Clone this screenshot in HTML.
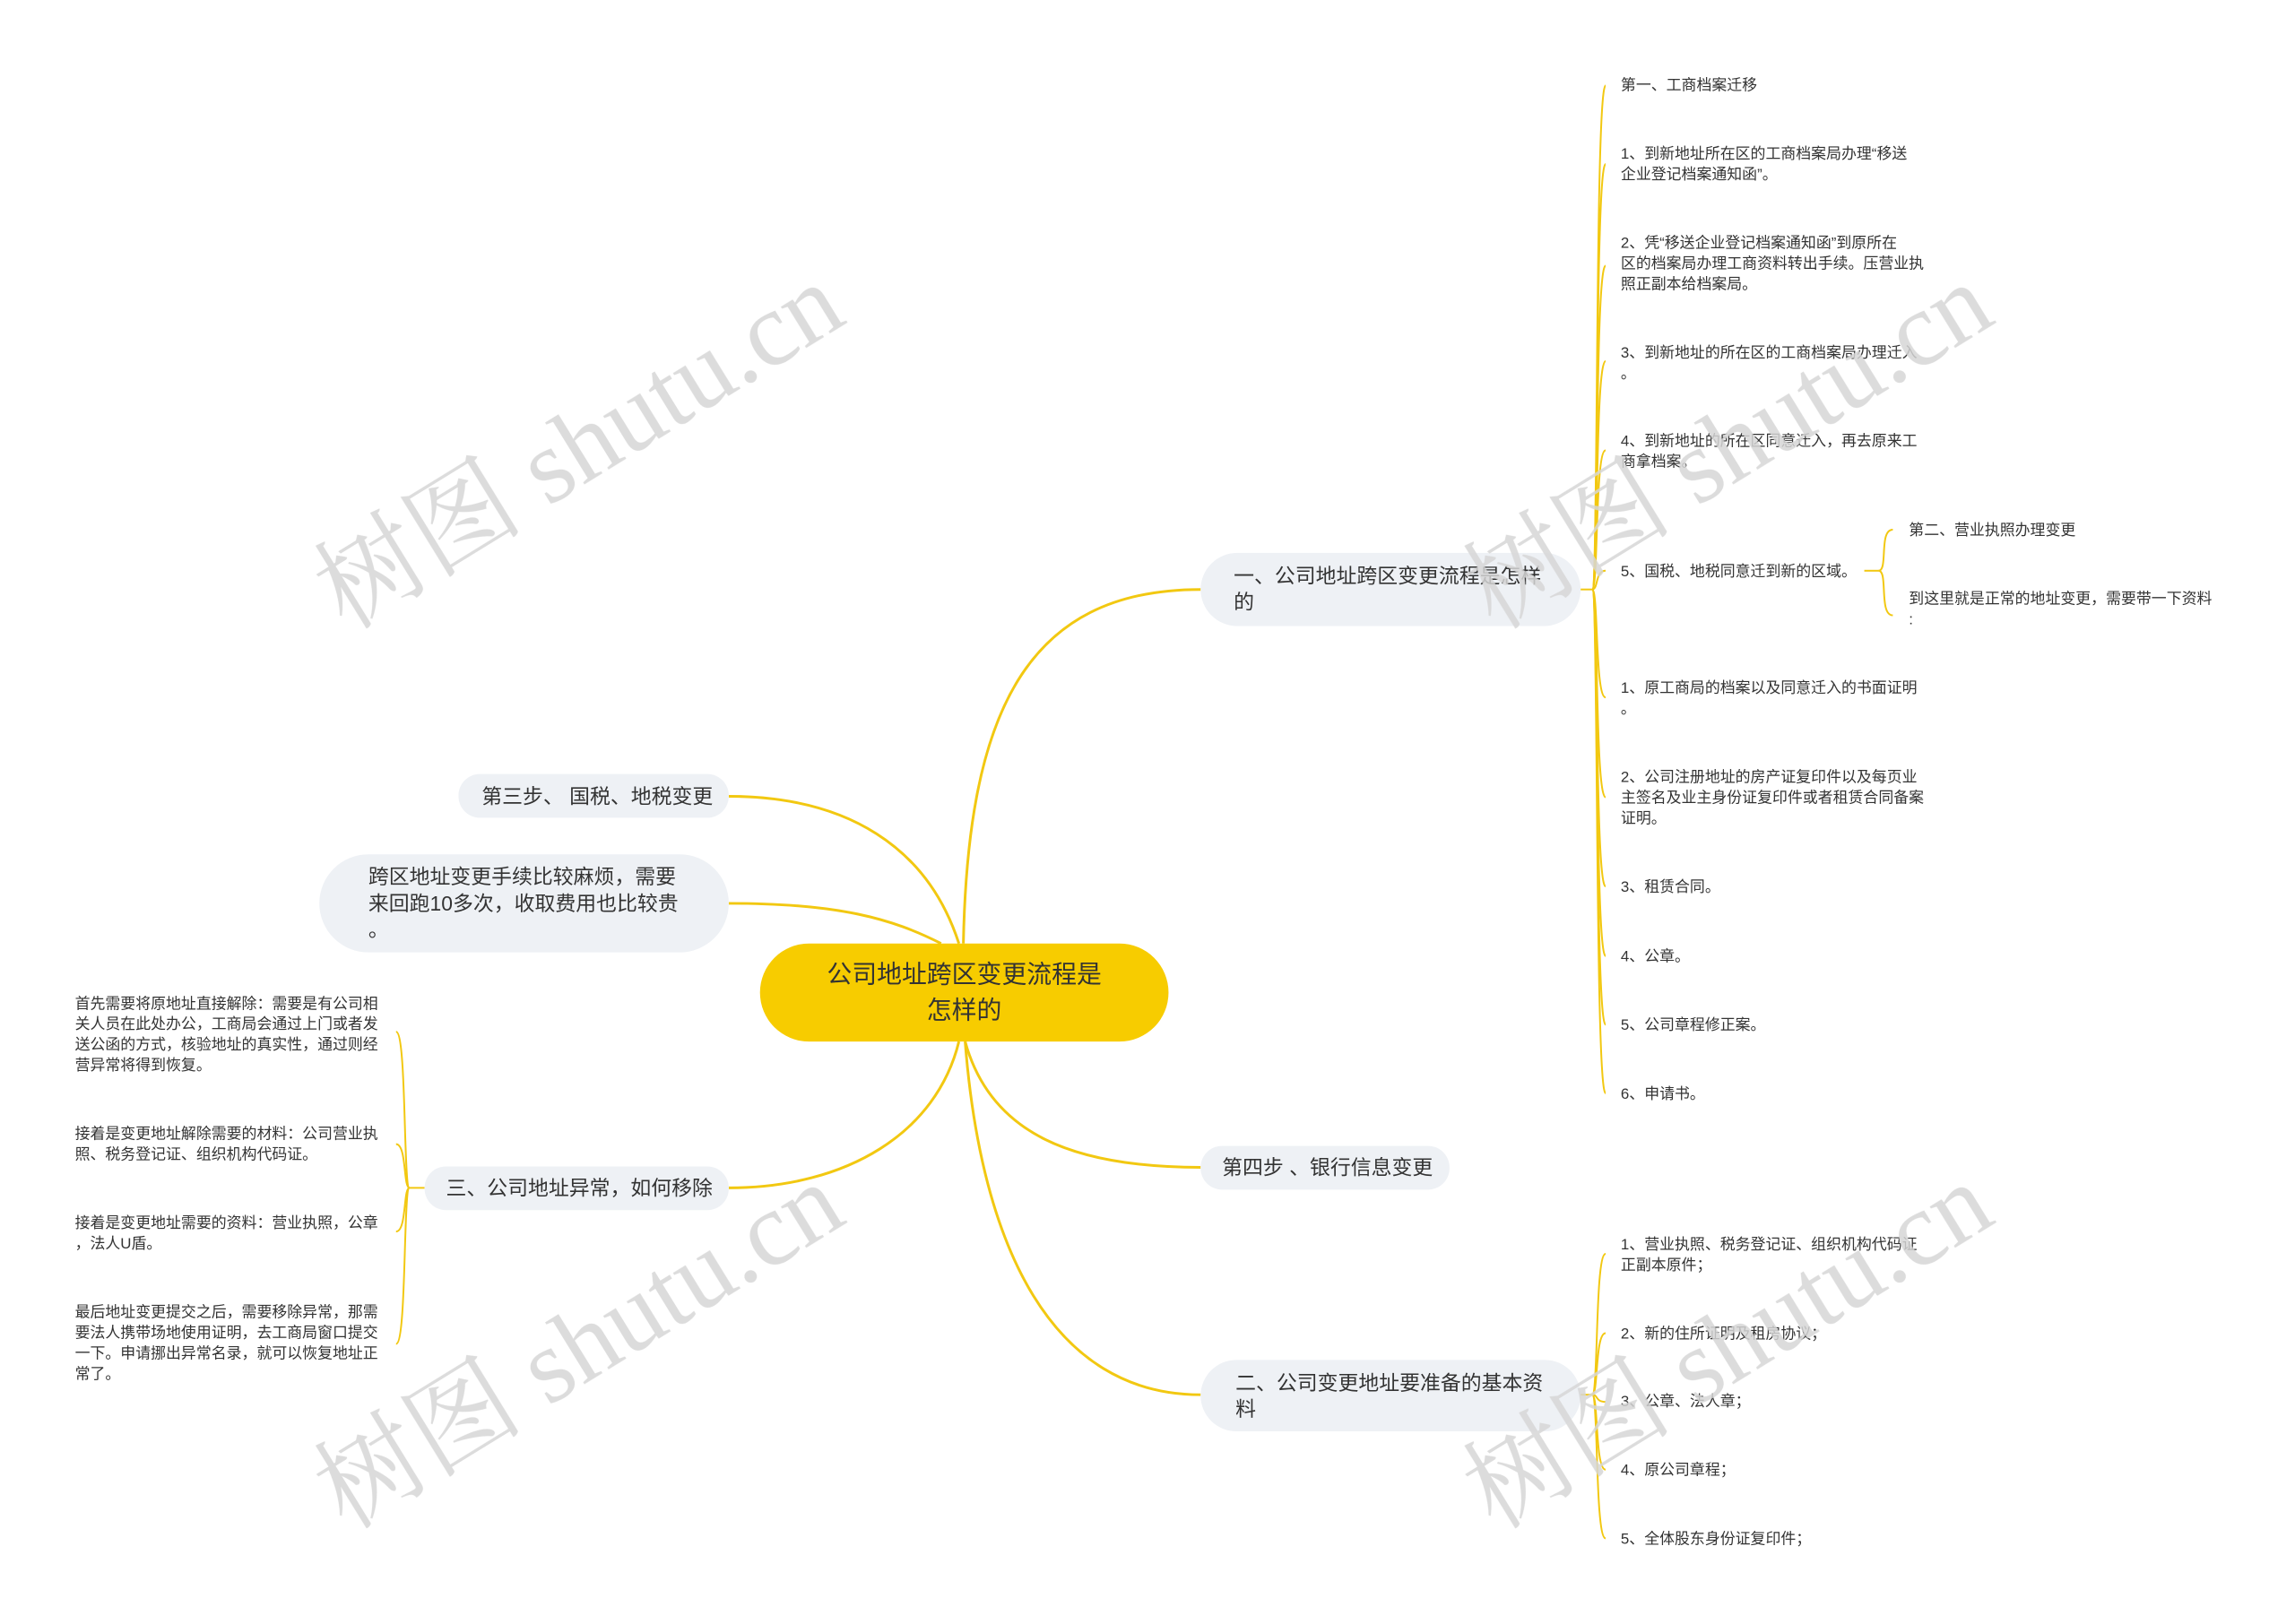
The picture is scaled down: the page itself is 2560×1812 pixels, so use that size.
<!DOCTYPE html>
<html><head><meta charset="utf-8"><style>
html,body{margin:0;padding:0;background:#fff;}
svg{display:block;}
text{font-family:"Liberation Sans","Noto Sans CJK SC",sans-serif;fill:#333;}
.wm{font-family:"Liberation Serif","Noto Serif CJK SC",serif;fill:#d6d6d6;font-size:118px;}
.lf{font-size:17px;}
.nd{font-size:23px;}
</style></head><body>
<svg width="2560" height="1812" viewBox="0 0 2560 1812" xmlns="http://www.w3.org/2000/svg">
<g transform="scale(0.995)">
<g fill="none" stroke="#f2c811" stroke-width="3">
<path d="M1080,1058 C1085,800 1150,661 1346,661"/>
<path d="M1075,1058 C1040,950 950,893 817,893"/>
<path d="M1055,1058 C1000,1030 940,1013 817,1013"/>
<path d="M1075,1168 C1050,1270 950,1332 817,1332"/>
<path d="M1082,1168 C1110,1270 1200,1309 1346,1309"/>
<path d="M1082,1168 C1100,1400 1180,1564 1346,1564"/>
</g>
<g fill="none" stroke="#f2c811" stroke-width="2">
<path d="M1772,661 L1785,661"/>
<path d="M1785,661 C1792,661 1788,96 1800,96"/>
<path d="M1785,661 C1792,661 1788,184 1800,184"/>
<path d="M1785,661 C1792,661 1788,298 1800,298"/>
<path d="M1785,661 C1792,661 1788,405 1800,405"/>
<path d="M1785,661 C1792,661 1788,505 1800,505"/>
<path d="M1785,661 C1792,661 1788,640 1800,640"/>
<path d="M1785,661 C1792,661 1788,782 1800,782"/>
<path d="M1785,661 C1792,661 1788,894 1800,894"/>
<path d="M1785,661 C1792,661 1788,994 1800,994"/>
<path d="M1785,661 C1792,661 1788,1072 1800,1072"/>
<path d="M1785,661 C1792,661 1788,1149 1800,1149"/>
<path d="M1785,661 C1792,661 1788,1226 1800,1226"/>
<path d="M2090,640 L2106,640"/>
<path d="M2106,640 C2117,640 2106,594 2122,594"/>
<path d="M2106,640 C2117,640 2106,690 2122,690"/>
<path d="M1772,1564 L1785,1564"/>
<path d="M1785,1564 C1792,1564 1788,1406 1800,1406"/>
<path d="M1785,1564 C1792,1564 1788,1495 1800,1495"/>
<path d="M1785,1564 C1792,1564 1788,1572 1800,1572"/>
<path d="M1785,1564 C1792,1564 1788,1648 1800,1648"/>
<path d="M1785,1564 C1792,1564 1788,1725 1800,1725"/>
<path d="M476,1332 L459,1332"/>
<path d="M459,1332 C452,1332 456,1157 444,1157"/>
<path d="M459,1332 C452,1332 456,1283 444,1283"/>
<path d="M459,1332 C452,1332 456,1381 444,1381"/>
<path d="M459,1332 C452,1332 456,1507 444,1507"/>
</g>
<rect x="852" y="1058" width="458" height="110" rx="55" fill="#f7cc00"/>
<text x="1081" y="1102" text-anchor="middle" style="font-size:28px">公司地址跨区变更流程是</text>
<text x="1081" y="1142" text-anchor="middle" style="font-size:28px">怎样的</text>
<rect x="1346" y="620" width="426" height="82" rx="41" fill="#eef1f5"/>
<text class="nd" x="1383" y="654">一、公司地址跨区变更流程是怎样</text>
<text class="nd" x="1383" y="683">的</text>
<rect x="1346" y="1285" width="279" height="49" rx="24" fill="#eef1f5"/>
<text class="nd" x="1370" y="1317">第四步 、银行信息变更</text>
<rect x="1346" y="1525" width="426" height="80" rx="40" fill="#eef1f5"/>
<text class="nd" x="1385" y="1559">二、公司变更地址要准备的基本资</text>
<text class="nd" x="1385" y="1588">料</text>
<rect x="514" y="868" width="303" height="49" rx="24" fill="#eef1f5"/>
<text class="nd" x="540" y="901">第三步、 国税、地税变更</text>
<rect x="358" y="958" width="459" height="110" rx="55" fill="#eef1f5"/>
<text class="nd" x="413" y="991">跨区地址变更手续比较麻烦，需要</text>
<text class="nd" x="413" y="1021">来回跑10多次，收取费用也比较贵</text>
<text class="nd" x="413" y="1050">。</text>
<rect x="476" y="1308" width="341" height="49" rx="24" fill="#eef1f5"/>
<text class="nd" x="500" y="1340">三、公司地址异常，如何移除</text>
<g class="lf">
<text x="1817" y="101">第一、工商档案迁移</text>
<text x="1817" y="178">1、到新地址所在区的工商档案局办理“移送</text>
<text x="1817" y="201">企业登记档案通知函”。</text>
<text x="1817" y="278">2、凭“移送企业登记档案通知函”到原所在</text>
<text x="1817" y="301">区的档案局办理工商资料转出手续。压营业执</text>
<text x="1817" y="324">照正副本给档案局。</text>
<text x="1817" y="401">3、到新地址的所在区的工商档案局办理迁入</text>
<text x="1817" y="424">。</text>
<text x="1817" y="500">4、到新地址的所在区同意迁入，再去原来工</text>
<text x="1817" y="523">商拿档案。</text>
<text x="1817" y="646">5、国税、地税同意迁到新的区域。</text>
<text x="2140" y="600">第二、营业执照办理变更</text>
<text x="2140" y="677">到这里就是正常的地址变更，需要带一下资料</text>
<text x="2140" y="700">:</text>
<text x="1817" y="777">1、原工商局的档案以及同意迁入的书面证明</text>
<text x="1817" y="800">。</text>
<text x="1817" y="877">2、公司注册地址的房产证复印件以及每页业</text>
<text x="1817" y="900">主签名及业主身份证复印件或者租赁合同备案</text>
<text x="1817" y="923">证明。</text>
<text x="1817" y="1000">3、租赁合同。</text>
<text x="1817" y="1078">4、公章。</text>
<text x="1817" y="1155">5、公司章程修正案。</text>
<text x="1817" y="1232">6、申请书。</text>
<text x="1817" y="1401">1、营业执照、税务登记证、组织机构代码证</text>
<text x="1817" y="1424">正副本原件；</text>
<text x="1817" y="1501">2、新的住所证明及租房协议；</text>
<text x="1817" y="1577">3、公章、法人章；</text>
<text x="1817" y="1654">4、原公司章程；</text>
<text x="1817" y="1731">5、全体股东身份证复印件；</text>
<text x="84" y="1131">首先需要将原地址直接解除：需要是有公司相</text>
<text x="84" y="1154">关人员在此处办公，工商局会通过上门或者发</text>
<text x="84" y="1177">送公函的方式，核验地址的真实性，通过则经</text>
<text x="84" y="1200">营异常将得到恢复。</text>
<text x="84" y="1277">接着是变更地址解除需要的材料：公司营业执</text>
<text x="84" y="1300">照、税务登记证、组织机构代码证。</text>
<text x="84" y="1377">接着是变更地址需要的资料：营业执照，公章</text>
<text x="84" y="1400">，法人U盾。</text>
<text x="84" y="1477">最后地址变更提交之后，需要移除异常，那需</text>
<text x="84" y="1500">要法人携带场地使用证明，去工商局窗口提交</text>
<text x="84" y="1523">一下。申请挪出异常名录，就可以恢复地址正</text>
<text x="84" y="1546">常了。</text>
</g>
<g opacity="0.85">
<text class="wm" x="650" y="540" text-anchor="middle" transform="rotate(-31.6 650 502)">树图 shutu.cn</text>
<text class="wm" x="1938" y="540" text-anchor="middle" transform="rotate(-31.6 1938 502)">树图 shutu.cn</text>
<text class="wm" x="650" y="1549" text-anchor="middle" transform="rotate(-31.6 650 1511)">树图 shutu.cn</text>
<text class="wm" x="1938" y="1549" text-anchor="middle" transform="rotate(-31.6 1938 1511)">树图 shutu.cn</text>
</g>
</g>
</svg>
</body></html>
